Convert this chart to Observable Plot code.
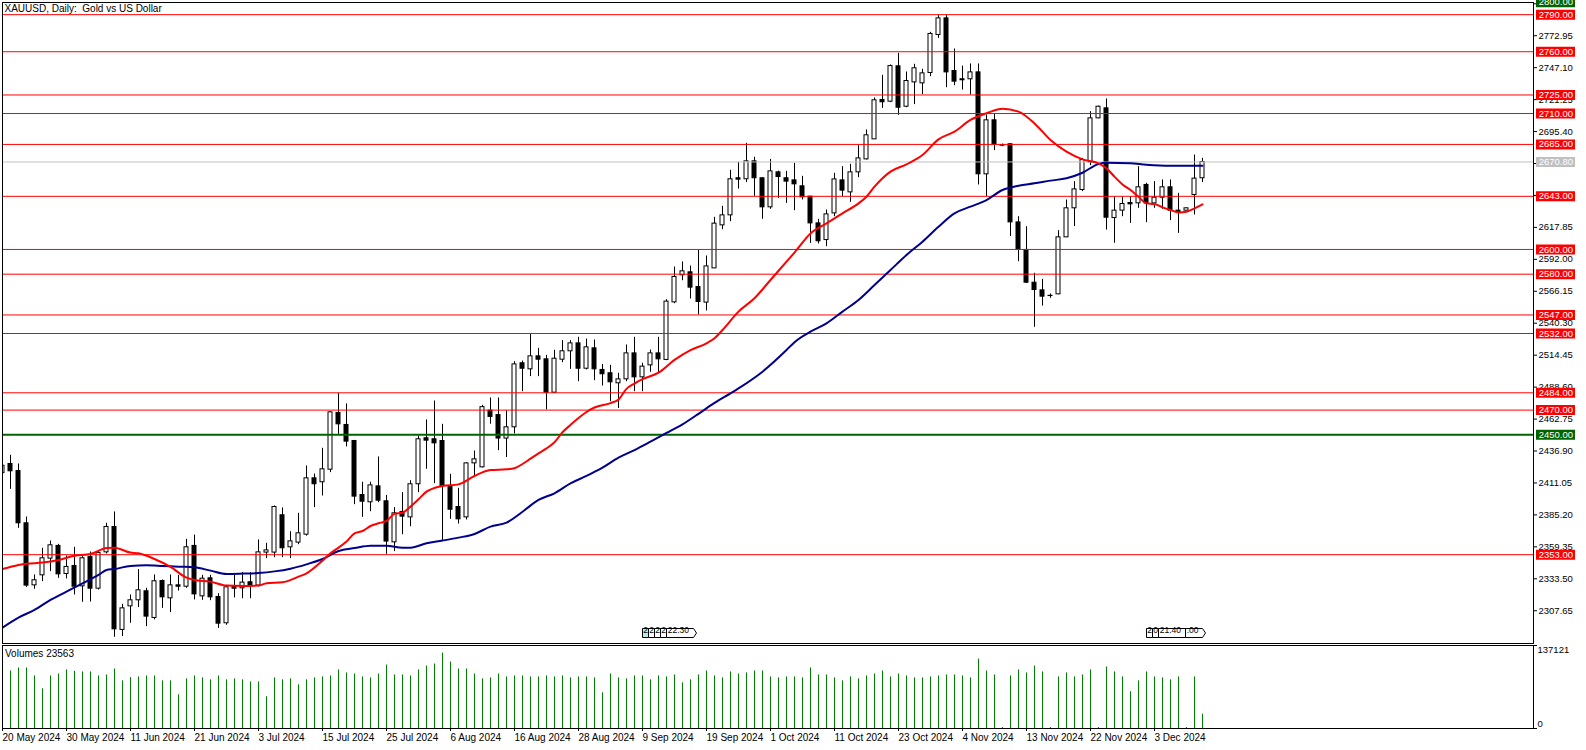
<!DOCTYPE html>
<html><head><meta charset="utf-8">
<script src="https://cdn.jsdelivr.net/npm/d3@7"></script>
<script src="https://cdn.jsdelivr.net/npm/@observablehq/plot@0.6"></script>
<style>
html,body{margin:0;padding:0;background:#fff;}
#chart{position:relative;width:1586px;height:750px;overflow:hidden;background:#fff;}
#chart svg{position:absolute;left:0;display:block;}
</style></head><body><div id="chart"></div>
<script>
// ---------- data ----------
const title = "XAUUSD, Daily:\u00a0 Gold vs US Dollar";
const volumeTitle = "Volumes 23563";
const dateLabels = ["20 May 2024","30 May 2024","11 Jun 2024","21 Jun 2024","3 Jul 2024","15 Jul 2024","25 Jul 2024","6 Aug 2024","16 Aug 2024","28 Aug 2024","9 Sep 2024","19 Sep 2024","1 Oct 2024","11 Oct 2024","23 Oct 2024","4 Nov 2024","13 Nov 2024","22 Nov 2024","3 Dec 2024"];
const dateIdx = [0,8,16,24,32,40,48,56,64,72,80,88,96,104,112,120,128,136,144];
const yTicks = [2307.65,2333.50,2359.35,2385.20,2411.05,2436.90,2462.75,2488.60,2514.45,2540.30,2566.15,2592.00,2617.85,2643.70,2669.55,2695.40,2721.25,2747.10,2772.95,2798.80];
const redLevels = [2790,2760,2725,2710,2685,2643,2600,2580,2547,2532,2484,2470,2353];
const greenLevels = [2450];
const topLevel = 2800;
const bidPrice = 2670.80;
const volMax = 137121;

const open = [2419.0,2426.4,2420.7,2378.4,2328.2,2336.3,2349.8,2360.1,2337.4,2343.9,
2327.4,2351.1,2325.5,2354.9,2375.4,2292.1,2311.2,2316.1,2323.4,2301.8,
2331.7,2317.7,2328.2,2327.1,2360.1,2319.3,2333.9,2318.8,2297.5,2326.9,
2325.8,2330.7,2328.0,2354.7,2354.7,2384.9,2359.0,2362.8,2369.2,2414.8,
2411.6,2421.8,2467.7,2458.0,2445.0,2401.3,2395.4,2408.3,2396.2,2363.0,
2387.6,2383.2,2410.0,2447.2,2446.4,2445.0,2408.6,2391.6,2383.2,2426.9,
2423.7,2469.6,2466.0,2447.0,2456.1,2507.9,2503.0,2513.5,2511.1,2484.1,
2510.8,2517.6,2524.0,2503.5,2520.0,2502.5,2499.8,2491.7,2494.9,2515.9,
2496.5,2506.2,2515.9,2510.6,2557.2,2579.1,2581.5,2569.6,2557.0,2584.7,
2619.5,2627.6,2657.6,2656.8,2671.3,2657.6,2634.1,2662.4,2657.6,2655.9,
2651.1,2642.7,2621.1,2607.6,2629.2,2655.9,2646.2,2662.4,2672.9,2689.1,
2721.0,2719.6,2748.2,2715.5,2735.2,2734.4,2742.8,2773.5,2787.0,2744.4,
2737.7,2737.7,2743.3,2660.8,2704.5,2684.3,2685.1,2621.9,2599.6,2573.1,
2566.9,2562.5,2563.7,2609.8,2633.3,2648.1,2670.5,2706.1,2714.2,2625.4,
2631.4,2637.6,2637.3,2652.2,2637.3,2641.9,2650.3,2631.4,2631.4,2644.1,
2657.6];
const high = [2449.0,2433.4,2426.4,2383.5,2336.6,2358.2,2364.1,2361.4,2352.0,2359.0,
2351.4,2355.2,2355.5,2378.4,2387.6,2312.9,2320.4,2340.9,2325.8,2336.6,
2332.5,2336.6,2336.3,2365.4,2368.9,2336.3,2336.3,2321.5,2328.2,2336.3,
2338.5,2338.5,2364.9,2362.2,2392.4,2390.8,2371.6,2386.5,2424.8,2418.3,
2439.1,2468.7,2483.6,2475.0,2445.5,2411.6,2411.6,2432.1,2401.0,2391.1,
2403.2,2412.9,2449.1,2462.0,2477.4,2458.5,2418.0,2406.7,2427.5,2436.9,
2473.9,2479.8,2479.8,2469.5,2509.2,2509.7,2531.9,2520.0,2514.3,2518.4,
2526.2,2526.2,2528.9,2527.5,2526.7,2507.0,2506.2,2499.8,2522.7,2528.9,
2507.9,2518.6,2528.9,2559.4,2585.8,2589.9,2586.6,2599.6,2594.7,2626.0,
2634.9,2664.0,2670.5,2685.9,2674.6,2657.9,2672.9,2663.4,2663.2,2669.7,
2659.2,2643.0,2624.4,2631.9,2661.6,2667.0,2668.9,2684.0,2696.7,2722.6,
2740.9,2749.3,2758.7,2743.6,2749.8,2745.8,2775.7,2789.7,2789.7,2762.2,
2748.4,2750.1,2750.1,2708.8,2709.9,2685.3,2685.4,2626.5,2618.4,2580.7,
2575.8,2564.0,2615.2,2640.0,2654.9,2673.7,2711.5,2716.0,2721.8,2642.7,
2642.7,2642.7,2667.0,2653.5,2654.9,2656.2,2656.2,2645.4,2633.5,2676.4,
2673.7];
const low = [2411.5,2405.9,2374.3,2326.6,2325.0,2331.2,2339.3,2333.9,2333.4,2320.4,
2314.5,2314.7,2324.4,2353.6,2286.1,2286.7,2297.5,2310.2,2294.8,2300.2,
2309.6,2306.1,2323.6,2325.8,2316.4,2316.1,2315.8,2293.4,2295.9,2318.0,
2317.4,2317.4,2326.9,2349.8,2350.6,2350.6,2349.8,2361.1,2368.0,2391.1,
2400.5,2419.4,2450.4,2440.2,2393.5,2383.2,2387.8,2395.1,2353.3,2355.5,
2369.2,2375.7,2403.2,2422.1,2410.5,2363.8,2381.6,2377.8,2381.1,2416.2,
2423.2,2458.6,2437.2,2431.6,2450.7,2484.9,2497.1,2497.1,2470.1,2483.6,
2508.4,2503.0,2493.0,2502.5,2493.8,2489.5,2476.8,2471.4,2493.0,2484.9,
2484.9,2500.6,2500.3,2510.0,2556.1,2574.7,2559.9,2547.0,2550.2,2584.7,
2616.0,2622.5,2648.9,2654.1,2643.0,2624.4,2632.5,2641.4,2637.3,2631.4,
2640.0,2604.9,2604.4,2602.3,2626.5,2642.7,2638.1,2658.1,2672.4,2689.1,
2714.2,2718.8,2708.5,2714.7,2717.2,2725.3,2739.8,2770.8,2730.9,2732.5,
2729.0,2725.0,2652.2,2642.7,2680.0,2683.2,2610.4,2590.1,2572.6,2537.0,
2554.2,2560.5,2563.4,2609.6,2618.5,2646.8,2667.8,2705.8,2615.7,2605.0,
2626.5,2621.1,2633.3,2621.7,2633.3,2632.5,2623.3,2613.0,2631.2,2627.9,
2654.1];
const close = [2425.0,2420.5,2378.4,2328.0,2332.3,2350.1,2360.6,2337.1,2343.1,2327.1,
2350.1,2325.5,2354.4,2375.4,2292.6,2309.6,2316.1,2324.2,2302.9,2331.5,
2318.5,2328.2,2327.1,2359.0,2320.9,2333.6,2318.5,2297.2,2326.6,2325.5,
2330.4,2328.0,2354.9,2356.5,2391.6,2358.2,2363.8,2370.3,2414.8,2410.0,
2422.1,2468.2,2458.5,2444.5,2400.0,2395.9,2409.1,2396.7,2363.6,2386.5,
2383.8,2410.0,2446.4,2445.3,2443.1,2408.6,2389.4,2381.6,2426.9,2430.2,
2472.4,2464.5,2447.0,2456.1,2507.0,2503.5,2513.5,2510.8,2484.1,2511.6,
2517.6,2524.0,2503.5,2520.8,2503.0,2499.0,2492.5,2494.9,2515.9,2496.5,
2505.2,2515.9,2511.1,2557.8,2577.7,2582.3,2569.1,2557.5,2586.3,2620.9,
2627.6,2656.8,2656.5,2671.3,2657.6,2634.1,2663.2,2658.6,2654.9,2652.7,
2642.2,2621.1,2606.6,2628.4,2656.7,2647.6,2662.4,2673.7,2692.4,2720.7,
2719.1,2748.4,2714.7,2736.3,2746.6,2742.5,2774.4,2787.0,2743.3,2735.8,
2736.9,2743.3,2660.8,2704.5,2685.1,2684.0,2621.9,2599.6,2573.1,2567.2,
2561.8,2562.3,2609.8,2633.3,2648.6,2672.4,2706.1,2715.5,2625.7,2631.4,
2636.8,2636.5,2650.3,2637.3,2641.9,2650.3,2631.4,2630.3,2633.3,2657.3,
2670.8];
const volume = [98000,95060,99970,99970,86860,65560,86860,90140,96700,94510,
93420,93420,86860,88500,98330,78670,84130,85220,86860,86860,
78670,78670,55720,81950,86860,83580,80310,86860,80310,81950,
80310,77030,77030,52450,83580,80310,81950,72110,80310,83580,
85220,86860,96700,91780,90140,85220,83580,90140,104890,88500,
88500,86860,96700,103250,106530,124560,109810,98330,98330,90140,
81950,83580,90140,85220,86860,86860,85220,85220,86860,85220,
86860,83580,85220,85220,83580,59000,90140,83580,81950,86860,
86860,80310,86860,85220,88500,75390,80310,88500,95060,86860,
83580,93420,90140,91780,95060,95060,85220,83580,85220,85220,
83580,99970,88500,88500,83580,78670,85220,81950,86860,90140,
95060,85220,90140,86860,83580,83580,85220,86860,88500,88500,
86860,83580,114720,95060,88500,1640,86860,96700,91780,103250,
93420,1640,85220,91780,85220,88500,96700,1640,101610,93420,
85220,60640,78670,93420,85220,83580,80310,85220,1640,85220,
23563];
const redMAIdx = [0,2,3,5,7,9,11,13,14,16,17,19,21,23,24,26,28,30,32,33,35,37,38,40,41,43,44,45,46,47,48,49,50,51,52,53,55,57,59,61,63,64,65,66,67,68,69,70,71,72,73,74,76,77,78,79,80,82,84,86,88,89,90,92,94,96,98,99,101,103,105,107,108,109,111,113,115,117,119,121,123,125,127,129,131,133,135,137,138,139,140,141,142,143,144,145,146,147,148,149,150];
const redMAVal = [2341.4,2344.7,2345.7,2346.6,2348.7,2352.2,2353.6,2358.4,2358.7,2354.7,2354.1,2349.5,2343.1,2334.4,2332.5,2331.2,2328.0,2327.7,2328.0,2329.9,2330.7,2335.2,2337.9,2348.2,2354.1,2363.6,2370.3,2372.2,2376.2,2378.4,2380.3,2386.0,2387.0,2391.9,2397.8,2404.0,2408.6,2409.9,2416.7,2421.5,2422.1,2423.0,2426.4,2430.7,2435.0,2439.0,2444.0,2452.1,2458.0,2463.6,2468.5,2472.1,2475.7,2478.5,2487.2,2491.5,2495.0,2500.3,2510.6,2518.6,2524.0,2528.1,2534.8,2549.7,2560.5,2575.3,2590.1,2597.5,2613.0,2621.1,2629.2,2637.3,2642.7,2650.8,2663.0,2668.9,2676.4,2689.1,2695.3,2704.8,2710.2,2713.9,2711.5,2702.0,2688.6,2679.1,2672.9,2669.7,2665.6,2658.9,2652.5,2648.1,2642.7,2637.3,2636.8,2634.1,2631.9,2630.0,2630.6,2633.3,2636.5];
const navyMAIdx = [0,2,4,6,8,10,12,13,14,16,18,20,22,24,26,28,30,32,34,36,38,40,42,44,46,48,50,51,53,55,57,59,61,63,65,67,69,71,73,75,77,79,81,83,85,87,89,91,92,95,98,99,101,103,105,107,109,111,113,115,117,119,121,123,125,127,129,131,133,135,137,138,141,143,146,150];
const navyMAVal = [2294.0,2302.1,2308.3,2316.4,2323.1,2329.8,2336.6,2340.6,2341.4,2343.9,2344.4,2343.9,2343.3,2342.8,2340.1,2337.4,2337.7,2338.2,2339.5,2341.7,2345.2,2349.5,2356.0,2358.4,2360.3,2360.3,2358.7,2358.7,2362.2,2364.4,2366.8,2369.8,2375.7,2378.9,2387.8,2397.3,2402.7,2410.7,2416.7,2423.4,2431.5,2437.7,2444.5,2451.5,2458.5,2467.0,2475.8,2483.6,2487.6,2501.1,2518.6,2525.0,2533.5,2540.2,2549.7,2559.1,2571.2,2583.4,2595.5,2606.3,2618.4,2629.2,2634.6,2640.0,2648.1,2651.6,2653.5,2655.7,2657.6,2662.1,2669.2,2670.2,2669.7,2668.6,2667.8,2667.8];
// calendar event markers (bar index, labels)
const eventBars = [80, 143];
const eventLabels = [["2","2","2","2","22:30"], ["2","0","21:40",":00"]];

// ---------- build ----------
const bars = open.map((o, i) => ({i, o, h: high[i], l: low[i], c: close[i], v: volume[i]}));
const redMA = redMAIdx.map((i, k) => ({i, v: redMAVal[k]}));
const navyMA = navyMAIdx.map((i, k) => ({i, v: navyMAVal[k]}));
const priceBoxes = [
  ...redLevels.map(p => ({p, bg: "#ff0000"})),
  ...greenLevels.map(p => ({p, bg: "#006400"})),
  {p: topLevel, bg: "#006400"},
  {p: bidPrice, bg: "#c0c0c0"}
];
const FONT = "'Liberation Sans', Arial, sans-serif";
const xScale = {type: "linear", domain: [0, 150], range: [2, 1202]};
const boxSymbol = {draw(ctx) { ctx.rect(2.5, -5, 39, 10); }};
const rectSym = (x0, y0, w, h) => ({draw(ctx) { ctx.rect(x0, y0, w, h); }});
const chevSym = (x0, y0, w, h) => ({draw(ctx) {
  ctx.moveTo(x0, y0); ctx.lineTo(x0 + w, y0); ctx.lineTo(x0 + w + 3, y0 + h / 2);
  ctx.lineTo(x0 + w, y0 + h); ctx.lineTo(x0, y0 + h); ctx.closePath(); }});

// event marker marks
const eventMarks = [];
eventBars.forEach((bi, k) => {
  let off = 0;
  eventLabels[k].forEach((lab, j) => {
    const w = lab.length === 1 ? 6 : lab.length * 5 + 2;
    const last = j === eventLabels[k].length - 1;
    const fill = (k === 0 && j === 0) ? "#b4ecec" : "white";
    eventMarks.push(Plot.dot([bi], {x: d => d, frameAnchor: "bottom", symbol: last ? chevSym(off, -15, w, 9) : rectSym(off, -15, w, 9), fill, stroke: "black", strokeWidth: 1}));
    eventMarks.push(Plot.text([bi], {x: d => d, frameAnchor: "bottom", dx: off + (lab.length === 1 ? 3 : 1.2), dy: -10.3, text: () => lab, textAnchor: lab.length === 1 ? "middle" : "start", fontSize: 8.5, fill: "black"}));
    off += w;
  });
});

const main = Plot.plot({
  width: 1586, height: 645,
  marginLeft: 2, marginRight: 53, marginTop: 2, marginBottom: 2,
  style: {fontFamily: FONT, fontSize: "9.5px", background: "white", overflow: "visible"},
  x: {...xScale, axis: null},
  y: {type: "linear", domain: [2281.14, 2800], range: [643, 1.8]},
  marks: [
    Plot.ruleX(bars, {x: "i", y1: "l", y2: "h", stroke: "black", clip: true}),
    Plot.rect(bars, {x1: d => d.i - 0.25, x2: d => d.i + 0.25, y1: "o", y2: "c", fill: d => d.c >= d.o ? "white" : "black", stroke: "black", strokeWidth: 1, clip: true}),
    Plot.ruleY(redLevels, {stroke: "#ff0000", strokeWidth: 1}),
    Plot.ruleY(greenLevels, {stroke: "#006400", strokeWidth: 2}),
    Plot.ruleY([bidPrice], {stroke: "#c0c0c0", strokeWidth: 1}),
    Plot.line(navyMA, {x: "i", y: "v", stroke: "#00008b", strokeWidth: 2, curve: "monotone-x", clip: true}),
    Plot.line(redMA, {x: "i", y: "v", stroke: "#ff0000", strokeWidth: 2, curve: "monotone-x", clip: true}),
    ...eventMarks,
    Plot.text([title], {frameAnchor: "top-left", dx: 2, dy: 2.5, lineAnchor: "top", text: d => d, fontSize: 10, fill: "black"}),
    Plot.frame({stroke: "black", strokeWidth: 1}),
    Plot.axisY({anchor: "right", ticks: yTicks, tickFormat: d => d.toFixed(2), tickSize: 3, tickPadding: 2, label: null, fontSize: 9.5}),
    Plot.dot(priceBoxes, {y: "p", frameAnchor: "right", symbol: boxSymbol, fill: "bg", stroke: null}),
    Plot.text(priceBoxes, {y: "p", frameAnchor: "right", dx: 5.2, textAnchor: "start", text: d => d.p.toFixed(2), fill: "white", fontSize: 9.5})
  ]
});
main.style.top = "0px";

const vol = Plot.plot({
  width: 1586, height: 105,
  marginLeft: 2, marginRight: 53, marginTop: 0, marginBottom: 22,
  style: {fontFamily: FONT, fontSize: "10px", background: "transparent", overflow: "visible"},
  x: xScale,
  y: {type: "linear", domain: [0, volMax], range: [83, 0]},
  marks: [
    Plot.ruleX(bars, {x: "i", y1: 0, y2: "v", stroke: "#008000", strokeWidth: 1, clip: true}),
    Plot.frame({stroke: "black", strokeWidth: 1}),
    Plot.axisX({anchor: "bottom", ticks: dateIdx, tickFormat: d => dateLabels[dateIdx.indexOf(d)], tickSize: 3, tickPadding: 2, textAnchor: "start", dx: 0, label: null, fontSize: 10}),
    Plot.axisY({anchor: "right", ticks: [0, volMax], tickFormat: () => "", tickSize: 3, label: null}),
    Plot.text([volMax], {y: d => d, frameAnchor: "right", dx: 4, dy: 1, textAnchor: "start", lineAnchor: "top", text: d => String(d), fontSize: 9.5}),
    Plot.text([0], {y: d => d, frameAnchor: "right", dx: 4, dy: -2, textAnchor: "start", lineAnchor: "bottom", text: d => String(d), fontSize: 9.5}),
    Plot.text([volumeTitle], {frameAnchor: "top-left", dx: 2.5, dy: 4, lineAnchor: "top", text: d => d, fontSize: 10, fill: "black"})
  ]
});
vol.style.top = "645px";

const host = document.getElementById("chart");
host.appendChild(main);
host.appendChild(vol);
</script></body></html>
